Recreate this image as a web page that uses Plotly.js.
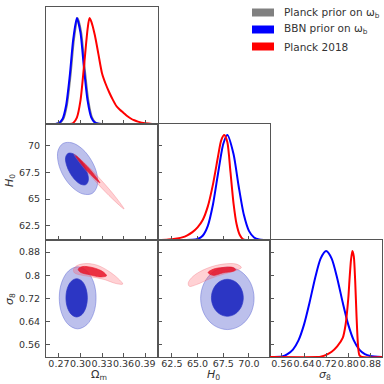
<!DOCTYPE html>
<html><head><meta charset="utf-8">
<script src="https://cdn.plot.ly/plotly-3.0.1.min.js"></script>
<style>html,body{margin:0;padding:0;background:#fff}#chart{width:384px;height:384px}</style>
</head><body><div id="chart"></div>
<script>
// ---- tick labels and axis titles ----
const omTicks = [0.27, 0.30, 0.33, 0.36, 0.39];
const omTickText = ["0.27", "0.30", "0.33", "0.36", "0.39"];
const h0Ticks = [62.5, 65, 67.5, 70];
const h0TickTextLeft = ["62.5", "65", "67.5", "70"];
const h0TickTextBottom = ["62.5", "65.0", "67.5", "70.0"];
const s8Ticks = [0.56, 0.64, 0.72, 0.80, 0.88];
const s8TickTextLeft = ["0.56", "0.64", "0.72", "0.8", "0.88"];
const s8TickTextBottom = ["0.56", "0.64", "0.72", "0.80", "0.88"];
const paramTitles = ["Ω<sub>m</sub>", "<i>H</i><sub>0</sub>", "<i>σ</i><sub>8</sub>"];
const legendLabels = ["Planck prior on ω<sub>b</sub>", "BBN prior on ω<sub>b</sub>", "Planck 2018"];

// ---- 1D marginals (normalised to peak 1) ----
const omGray_x = [0.252,0.266,0.271,0.276,0.281,0.286,0.291,0.296,0.301,0.306,0.311,0.316,0.321,0.326,0.331,0.408];
const omGray_p = [0,0.001,0.009,0.047,0.175,0.449,0.803,1.0,0.863,0.519,0.218,0.063,0.013,0.002,0,0];
const omBlue_x = [0.252,0.265,0.270,0.275,0.280,0.285,0.290,0.295,0.300,0.305,0.310,0.315,0.320,0.325,0.330,0.408];
const omBlue_p = [0,0.001,0.009,0.047,0.175,0.449,0.803,1.0,0.863,0.519,0.218,0.063,0.013,0.002,0,0];
const omRed_x = [0.252,0.285,0.290,0.295,0.300,0.305,0.310,0.3125,0.315,0.320,0.325,0.330,0.335,0.340,0.345,0.350,0.355,0.360,0.365,0.370,0.375,0.380,0.390,0.400,0.408];
const omRed_p = [0,0,0.01,0.06,0.22,0.55,0.9,1.0,0.97,0.84,0.66,0.48,0.38,0.30,0.23,0.17,0.135,0.105,0.075,0.052,0.035,0.022,0.006,0,0];

const h0Blue_x = [61.15,64.5,65.0,65.5,66.0,66.5,67.0,67.5,67.9,68.5,69.0,69.5,70.0,70.5,71.0,71.5,72.05];
const h0Blue_p = [0,0.002,0.01,0.041,0.135,0.338,0.638,0.915,1.0,0.819,0.512,0.242,0.087,0.024,0.005,0.001,0];
const h0Red_x = [61.15,62.0,62.5,63.0,63.5,64.0,64.5,65.0,65.5,66.0,66.5,67.0,67.3,67.6,67.9,68.2,68.5,68.8,69.1,69.4,69.7,72.05];
const h0Red_p = [0,0.002,0.008,0.015,0.025,0.045,0.075,0.12,0.19,0.32,0.53,0.8,0.95,1.0,0.93,0.65,0.35,0.15,0.05,0.01,0,0];

const s8Blue_x = [0.517,0.56,0.58,0.60,0.62,0.64,0.66,0.68,0.70,0.72,0.74,0.76,0.78,0.80,0.82,0.84,0.86,0.88,0.922];
const s8Blue_p = [0,0.005,0.027,0.07,0.157,0.306,0.514,0.744,0.929,1.0,0.929,0.744,0.514,0.306,0.157,0.07,0.027,0.009,0];
const s8Red_x = [0.517,0.69,0.70,0.72,0.74,0.76,0.78,0.79,0.80,0.805,0.81,0.815,0.82,0.825,0.83,0.835,0.84,0.85,0.922];
const s8Red_p = [0,0,0.003,0.02,0.05,0.1,0.18,0.3,0.55,0.75,0.92,1.0,0.95,0.72,0.38,0.12,0.02,0,0];

// ---- 2D contours (68% inner, 95% outer) ----
const omH0_blue95_om = [0.3162,0.3038,0.2894,0.2766,0.2692,0.2687,0.2757,0.2881,0.3027,0.3153,0.3229,0.3232];
const omH0_blue95_h0 = [65.52,65.47,66.05,67.13,68.40,69.53,70.22,70.28,69.70,68.62,67.35,66.22];
const omH0_blue68_om = [0.3077,0.3011,0.2930,0.2855,0.2805,0.2793,0.2826,0.2891,0.2972,0.3047,0.3098,0.3109];
const omH0_blue68_h0 = [66.36,66.37,66.76,67.44,68.22,68.90,69.28,69.27,68.87,68.19,67.42,66.74];
const omH0_red95_om = [0.2909,0.3070,0.3285,0.3486,0.3607,0.3449,0.3232,0.3028];
const omH0_red95_h0 = [69.22,68.31,66.81,65.22,64.07,64.99,66.49,68.07];
const omH0_red68_om = [0.2937,0.3120,0.3272,0.3089];
const omH0_red68_h0 = [69.04,67.87,66.51,67.68];

const omS8_blue95_om = [0.3217,0.3183,0.3089,0.2961,0.2833,0.2739,0.2705,0.2739,0.2833,0.2961,0.3089,0.3183];
const omS8_blue95_s8 = [0.7218,0.7755,0.8147,0.8291,0.8147,0.7755,0.7218,0.6681,0.6289,0.6145,0.6289,0.6681];
const omS8_blue68_om = [0.3096,0.3076,0.3022,0.2947,0.2873,0.2818,0.2798,0.2818,0.2873,0.2947,0.3022,0.3076];
const omS8_blue68_s8 = [0.7218,0.7549,0.7791,0.7880,0.7791,0.7549,0.7218,0.6887,0.6645,0.6556,0.6645,0.6887];
const omS8_red95_om = [0.2902,0.2951,0.3077,0.3230,0.3384,0.3523,0.3589,0.3495,0.3328,0.3160,0.2993,0.2916];
const omS8_red95_s8 = [0.8191,0.8333,0.8404,0.8350,0.8156,0.7890,0.7696,0.7713,0.7855,0.7943,0.8014,0.8085];
const omS8_red68_om = [0.2969,0.3021,0.3174,0.3314,0.3363,0.3272,0.3133,0.3000];
const omS8_red68_s8 = [0.8209,0.8297,0.8262,0.8120,0.7979,0.7943,0.8014,0.8103];

const h0S8_blue95_h0 = [70.5,70.15,69.2,67.9,66.6,65.65,65.3,65.65,66.6,67.9,69.2,70.15];
const h0S8_blue95_s8 = [0.720,0.774,0.8135,0.828,0.8135,0.774,0.720,0.666,0.6265,0.612,0.6265,0.666];
const h0S8_blue68_h0 = [69.45,69.24,68.675,67.9,67.125,66.56,66.35,66.56,67.125,67.9,68.675,69.24];
const h0S8_blue68_s8 = [0.722,0.754,0.7774,0.786,0.7774,0.754,0.722,0.690,0.6666,0.658,0.6666,0.690];
const h0S8_red95_h0 = [64.10,64.59,65.88,67.48,68.77,69.26,68.61,67.48,66.20,64.91,64.20];
const h0S8_red95_s8 = [0.7738,0.7972,0.8234,0.8386,0.8386,0.8269,0.8149,0.8032,0.7880,0.7678,0.7618];
const h0S8_red68_h0 = [66.03,66.52,67.48,68.45,68.71,68.45,67.48,66.52];
const h0S8_red68_s8 = [0.8092,0.8209,0.8269,0.8269,0.8191,0.8138,0.8085,0.7996];

// ---- styling / layout ----
const W = 384, H = 384;
const fx = p => p / W, fy = p => 1 - p / H;
const cols = [[46,158],[158,270],[270,382]];
const rows = [[7,124],[124,240],[240,357]];
const R = {om:[0.252,0.408], h0:[61.15,72.05], s8:[0.517,0.922], pdf:[0,1.105]};
const C = {gray:'#808080', blue:'#0000ff', red:'#ff0000'};
const FONT = 'DejaVu Sans, sans-serif';

function line1d(x, y, color, xa, ya, w) {
  return {type:'scatter', mode:'lines', x:x, y:y, xaxis:xa, yaxis:ya,
    line:{color:color, width:w||2, shape:'spline', smoothing:0.7},
    hoverinfo:'skip', showlegend:false};
}
function fill2d(x, y, fillcolor, linecolor, xa, ya) {
  return {type:'scatter', mode:'lines', x:x.concat([x[0]]), y:y.concat([y[0]]), xaxis:xa, yaxis:ya,
    fill:'toself', fillcolor:fillcolor, line:{color:linecolor, width:0.7, shape:'spline', smoothing:1},
    hoverinfo:'skip', showlegend:false};
}
const B95 = ['rgb(188,192,236)', 'rgba(110,118,215,0.8)'];
const B68 = ['rgb(44,54,196)', 'rgb(44,54,196)'];
const R95 = ['rgba(255,70,85,0.25)', 'rgba(240,110,120,0.5)'];
const R68 = ['rgba(232,20,40,0.85)', 'rgba(232,20,40,0.9)'];

const traces = [
  line1d(omGray_x, omGray_p, C.gray, 'x', 'y'),
  line1d(omBlue_x, omBlue_p, C.blue, 'x', 'y'),
  line1d(omRed_x, omRed_p, C.red, 'x', 'y'),
  fill2d(omH0_blue95_om, omH0_blue95_h0, B95[0], B95[1], 'x2', 'y2'),
  fill2d(omH0_blue68_om, omH0_blue68_h0, B68[0], B68[1], 'x2', 'y2'),
  fill2d(omH0_red95_om, omH0_red95_h0, R95[0], R95[1], 'x2', 'y2'),
  fill2d(omH0_red68_om, omH0_red68_h0, R68[0], R68[1], 'x2', 'y2'),
  line1d(h0Blue_x, h0Blue_p, C.blue, 'x3', 'y3'),
  line1d(h0Red_x, h0Red_p, C.red, 'x3', 'y3'),
  fill2d(omS8_blue95_om, omS8_blue95_s8, B95[0], B95[1], 'x4', 'y4'),
  fill2d(omS8_blue68_om, omS8_blue68_s8, B68[0], B68[1], 'x4', 'y4'),
  fill2d(omS8_red95_om, omS8_red95_s8, R95[0], R95[1], 'x4', 'y4'),
  fill2d(omS8_red68_om, omS8_red68_s8, R68[0], R68[1], 'x4', 'y4'),
  fill2d(h0S8_blue95_h0, h0S8_blue95_s8, B95[0], B95[1], 'x5', 'y5'),
  fill2d(h0S8_blue68_h0, h0S8_blue68_s8, B68[0], B68[1], 'x5', 'y5'),
  fill2d(h0S8_red95_h0, h0S8_red95_s8, R95[0], R95[1], 'x5', 'y5'),
  fill2d(h0S8_red68_h0, h0S8_red68_s8, R68[0], R68[1], 'x5', 'y5'),
  line1d(s8Blue_x, s8Blue_p, C.blue, 'x6', 'y6'),
  line1d(s8Red_x, s8Red_p, C.red, 'x6', 'y6')
];

function ax(domainPx, isX, range, anchor, tickvals, ticktext, showLabels) {
  const a = {
    domain: isX ? [fx(domainPx[0]), fx(domainPx[1])] : [fy(domainPx[1]), fy(domainPx[0])],
    range: range, anchor: anchor, autorange:false, fixedrange:true,
    showline:true, mirror:true, linecolor:'#555', linewidth:1,
    showgrid:false, zeroline:false,
    ticks: tickvals ? 'inside' : '', ticklen:4, tickwidth:1, tickcolor:'#555',
    showticklabels: !!showLabels, tickangle:0,
    tickfont:{family:FONT, size:9.5, color:'#333'},
    ticklabelstandoff: isX ? -2 : 3
  };
  if (tickvals) { a.tickmode = 'array'; a.tickvals = tickvals; a.ticktext = ticktext || tickvals.map(() => ''); }
  return a;
}
const pdfAlign = (ticks, r) => ticks.map(v => (v - r[0]) / (r[1] - r[0]) * (R.pdf[1] - R.pdf[0]));

const layout = {
  width:W, height:H, margin:{l:0,r:0,t:0,b:0}, paper_bgcolor:'#fff', plot_bgcolor:'rgba(0,0,0,0)',
  showlegend:false,
  xaxis:  ax(cols[0], true,  R.om, 'y',  omTicks, omTickText, false),
  yaxis:  ax(rows[0], false, R.pdf, 'x', null, null, false),
  xaxis2: ax(cols[0], true,  R.om, 'y2', omTicks, omTickText, false),
  yaxis2: ax(rows[1], false, R.h0, 'x2', h0Ticks, h0TickTextLeft, true),
  xaxis3: ax(cols[1], true,  R.h0, 'y3', h0Ticks, h0TickTextBottom, false),
  yaxis3: ax(rows[1], false, R.pdf, 'x3', pdfAlign(h0Ticks, R.h0), null, false),
  xaxis4: ax(cols[0], true,  R.om, 'y4', omTicks, omTickText, true),
  yaxis4: ax(rows[2], false, R.s8, 'x4', s8Ticks, s8TickTextLeft, true),
  xaxis5: ax(cols[1], true,  R.h0, 'y5', h0Ticks, h0TickTextBottom, true),
  yaxis5: ax(rows[2], false, R.s8, 'x5', s8Ticks, s8TickTextLeft, false),
  xaxis6: ax(cols[2], true,  R.s8, 'y6', s8Ticks, s8TickTextBottom, true),
  yaxis6: ax(rows[2], false, R.pdf, 'x6', pdfAlign(s8Ticks, R.s8), null, false),
  shapes: [], annotations: []
};

// axis titles
const titleFont = {family:FONT, size:11, color:'#333'};
const xTitlePx = [[99, 375], [213, 375], [325, 375]];
paramTitles.forEach((t, i) => {
  layout.annotations.push({xref:'paper', yref:'paper', x:fx(xTitlePx[i][0]), y:fy(xTitlePx[i][1]),
    xanchor:'center', yanchor:'middle', showarrow:false, text:t, font:titleFont});
});
const yTitlePx = [[10, 181], [10, 299]];
[paramTitles[1], paramTitles[2]].forEach((t, i) => {
  layout.annotations.push({xref:'paper', yref:'paper', x:fx(yTitlePx[i][0]), y:fy(yTitlePx[i][1]),
    xanchor:'center', yanchor:'middle', showarrow:false, text:t, textangle:-90, font:titleFont});
});

// legend drawn as patches + text
const legColors = [C.gray, C.blue, C.red];
const legRowsPx = [12.5, 29.5, 46.5];
legendLabels.forEach((lab, i) => {
  layout.shapes.push({type:'rect', xref:'paper', yref:'paper',
    x0:fx(252), x1:fx(274), y0:fy(legRowsPx[i]+4), y1:fy(legRowsPx[i]-4),
    fillcolor:legColors[i], line:{width:0}});
  layout.annotations.push({xref:'paper', yref:'paper', x:fx(282), y:fy(legRowsPx[i]),
    xanchor:'left', yanchor:'middle', showarrow:false, text:lab,
    font:{family:FONT, size:10.5, color:'#333'}});
});

Plotly.newPlot('chart', traces, layout, {staticPlot:true, displayModeBar:false});
</script>
</body></html>
